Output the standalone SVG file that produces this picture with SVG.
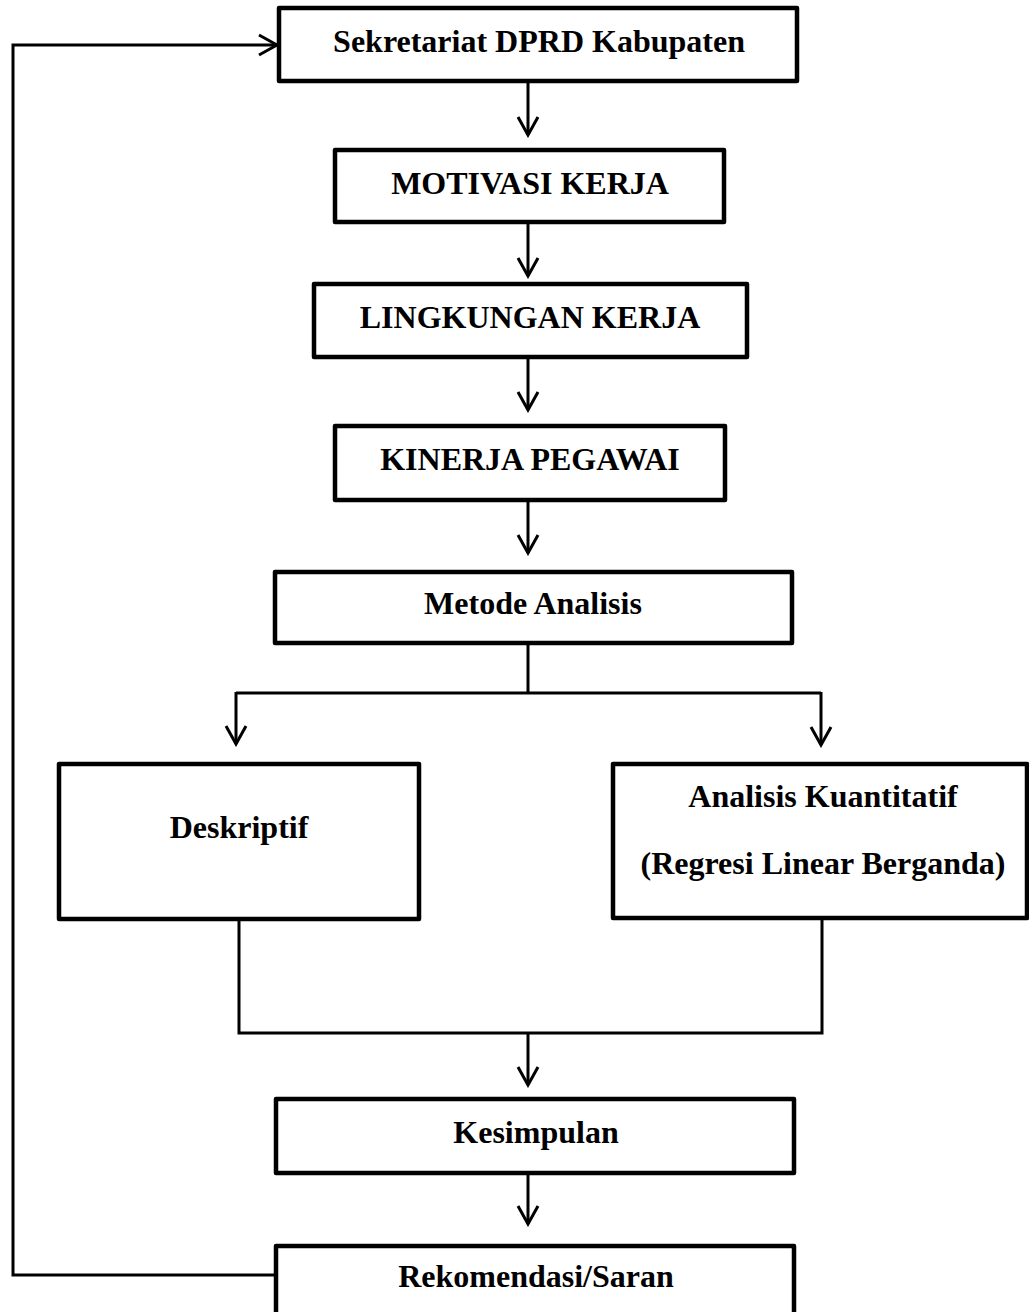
<svg xmlns="http://www.w3.org/2000/svg" width="1029" height="1312" viewBox="0 0 1029 1312">
  <style>
    .box { fill: #fff; stroke: #000; stroke-width: 4.5; stroke-linejoin: round; }
    .lbl { font-family: "Liberation Serif", "Times New Roman", serif; font-weight: bold; font-size: 32px; fill: #000; text-anchor: middle; }
    .con { fill: none; stroke: #000; stroke-width: 3; }
  </style>
  <defs>
    <marker id="ah" markerUnits="userSpaceOnUse" viewBox="0 0 24 24" markerWidth="24" markerHeight="24" refX="21" refY="12" orient="auto">
      <path d="M3,2 L21,12 L3,22" fill="none" stroke="#000" stroke-width="3" stroke-linejoin="miter"/>
    </marker>
  </defs>
  <rect width="1029" height="1312" fill="#fff"/>

  <g id="connectors">
    <path class="con" d="M276,1275 H13 V45 H277" marker-end="url(#ah)"/>
    <path class="con" d="M528,81 V135" marker-end="url(#ah)"/>
    <path class="con" d="M528,222 V276" marker-end="url(#ah)"/>
    <path class="con" d="M528,357 V410" marker-end="url(#ah)"/>
    <path class="con" d="M528,500 V553" marker-end="url(#ah)"/>
    <path class="con" d="M528,643 V693"/>
    <path class="con" d="M236,693 H821"/>
    <path class="con" d="M236,692 V744" marker-end="url(#ah)"/>
    <path class="con" d="M821,692 V745" marker-end="url(#ah)"/>
    <path class="con" d="M239,919 V1033 H822 V918"/>
    <path class="con" d="M528,1033 V1085" marker-end="url(#ah)"/>
    <path class="con" d="M528,1173 V1224" marker-end="url(#ah)"/>
  </g>

  <g id="node-sekretariat">
    <rect class="box" x="279" y="8" width="518" height="73"/>
    <text class="lbl" x="539" y="52">Sekretariat DPRD Kabupaten</text>
  </g>
  <g id="node-motivasi">
    <rect class="box" x="335" y="150" width="389" height="72"/>
    <text class="lbl" x="530" y="194">MOTIVASI KERJA</text>
  </g>
  <g id="node-lingkungan">
    <rect class="box" x="314" y="284" width="433" height="73"/>
    <text class="lbl" x="530" y="328">LINGKUNGAN KERJA</text>
  </g>
  <g id="node-kinerja">
    <rect class="box" x="335" y="426" width="390" height="74"/>
    <text class="lbl" x="530" y="470">KINERJA PEGAWAI</text>
  </g>
  <g id="node-metode">
    <rect class="box" x="275" y="572" width="517" height="71"/>
    <text class="lbl" x="533" y="614">Metode Analisis</text>
  </g>
  <g id="node-deskriptif">
    <rect class="box" x="59" y="764" width="360" height="155"/>
    <text class="lbl" x="239" y="838">Deskriptif</text>
  </g>
  <g id="node-kuantitatif">
    <rect class="box" x="613" y="764" width="414" height="154"/>
    <text class="lbl" x="823" y="807">Analisis Kuantitatif</text>
    <text class="lbl" x="823" y="874">(Regresi Linear Berganda)</text>
  </g>
  <g id="node-kesimpulan">
    <rect class="box" x="276" y="1099" width="518" height="74"/>
    <text class="lbl" x="536" y="1143">Kesimpulan</text>
  </g>
  <g id="node-rekomendasi">
    <rect class="box" x="276" y="1246" width="518" height="80"/>
    <text class="lbl" x="536" y="1287">Rekomendasi/Saran</text>
  </g>
</svg>
